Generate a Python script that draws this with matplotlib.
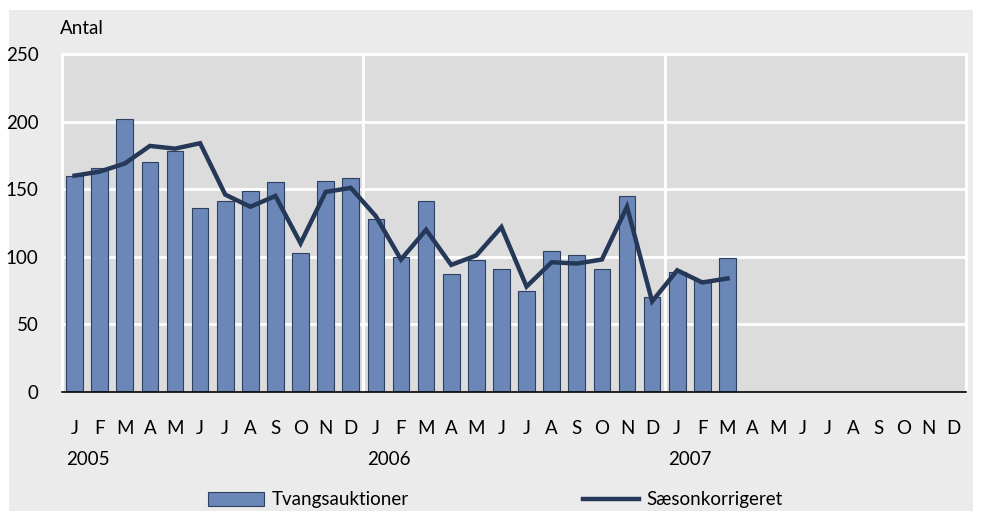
import matplotlib
matplotlib.use("Agg")
import matplotlib.pyplot as plt
import numpy as np
from matplotlib.patches import Rectangle, Patch
from matplotlib.lines import Line2D

months = ["J", "F", "M", "A", "M", "J", "J", "A", "S", "O", "N", "D"] * 3
years = ["2005", "2006", "2007"]

# Tvangsauktioner, Jan 2005 - Mar 2007
auctions = [160, 166, 202, 170, 178, 136, 141, 149, 155, 103, 156, 158,
            128, 100, 141, 87, 98, 91, 75, 104, 101, 91, 145, 70,
            89, 83, 99]
# Saesonkorrigeret
adjusted = [160, 163, 169, 182, 180, 184, 146, 137, 145, 110, 148, 151,
            130, 98, 120, 94, 101, 122, 78, 96, 95, 98, 137, 67,
            90, 81, 84]

plt.rcParams["font.family"] = ["Lato", "DejaVu Sans"]

W, H = 983, 511
fig = plt.figure(figsize=(W / 100, H / 100), dpi=100)
fig.patch.set_facecolor("white")
fig.patches.append(Rectangle((9 / W, 0), (973 - 9) / W, (H - 10) / H,
                             transform=fig.transFigure, facecolor="#EBEBEB",
                             edgecolor="none", zorder=-1))

ax = fig.add_axes([62 / W, (H - 392) / H, 904 / W, 338 / H])
ax.set_zorder(1)
ax.set_facecolor("#DCDCDC")

bar_color = "#6B87B8"
line_color = "#253858"

x_bar = np.arange(len(auctions))
ax.bar(x_bar, auctions, width=0.66, color=bar_color, edgecolor="#2E3F60",
       linewidth=0.8, zorder=3)
ax.plot(np.arange(len(adjusted)), adjusted, color=line_color, lw=3.2,
        solid_joinstyle="miter", zorder=4)

ax.set_xlim(-0.5, 35.5)
ax.set_ylim(0, 250)
ax.set_yticks(range(0, 251, 50))
ax.set_xticks(range(36))
ax.set_xticklabels(months)
ax.tick_params(axis="both", length=0, labelsize=13.5, colors="black")
ax.tick_params(axis="x", pad=20)
ax.tick_params(axis="y", pad=17)

for y in range(50, 251, 50):
    ax.axhline(y, color="white", lw=2, zorder=1)
for xb in [11.5, 23.5]:
    ax.axvline(xb, color="white", lw=2, zorder=1)

for s in ["left", "top", "right"]:
    ax.spines[s].set_color("white")
    ax.spines[s].set_linewidth(2)
ax.spines["bottom"].set_color("black")
ax.spines["bottom"].set_linewidth(1.2)
ax.spines["bottom"].set_zorder(5)

for i, yr in enumerate(years):
    ax.text(i * 12 - 0.35, -0.2, yr, transform=ax.get_xaxis_transform(),
            ha="left", va="center", fontsize=13.5)

fig.text(60 / W, 1 - 29 / H, "Antal", ha="left", va="center", fontsize=13.5)

handles = [Patch(facecolor=bar_color, edgecolor="#2E3F60", linewidth=0.8),
           Line2D([0], [0], color=line_color, lw=3.2)]
fig.legend(handles, ["Tvangsauktioner", "Sæsonkorrigeret"], ncol=2,
           loc="center", bbox_to_anchor=(0.504, 1 - 500 / H), frameon=False,
           fontsize=13.5, handlelength=3.0, handleheight=0.8,
           columnspacing=9.3, handletextpad=0.4)

fig.savefig("out.png", dpi=100)
